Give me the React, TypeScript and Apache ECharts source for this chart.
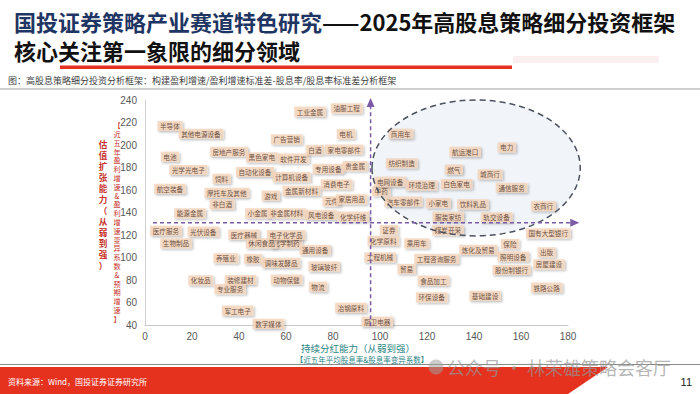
import React, { useEffect, useRef } from "react";
import * as echarts from "echarts";

// ---- data ----
const NAMES = [
  "半导体", "其他电源设备", "广告营销", "电池", "房地产服务", "黑色家电", "软件开发", "白酒",
  "家电零部件", "电机", "工业金属", "油服工程", "光学光电子", "自动化设备", "饲料", "计算机设备",
  "专用设备", "贵金属", "航空装备", "摩托车及其他", "游戏", "金属新材料", "消费电子", "非白酒",
  "元件", "家居用品", "能源金属", "小金属", "非金属材料", "风电设备", "化学纤维", "医疗服务",
  "光伏设备", "生物制品", "医疗器械", "化学制药", "休闲食品", "电子化学品", "通用设备", "养殖业",
  "橡胶", "调味发酵品", "玻璃玻纤", "化妆品", "装修建材", "专业服务", "动物保健", "物流",
  "军工电子", "数字媒体", "冶钢原料", "厨卫电器", "证券", "化学原料", "乘用车", "工程机械",
  "工程咨询服务", "贸易", "食品加工", "环保设备", "炼化及贸易", "保险", "照明设备", "股份制银行",
  "出版", "房屋建设", "国有大型银行", "铁路公路", "基础建设", "商用车", "航运港口", "电力",
  "纺织制造", "燃气", "城商行", "中药", "电网设备", "环境治理", "白色家电", "通信服务",
  "汽车零部件", "小家电", "饮料乳品", "服装家纺", "煤炭开采", "轨交设备", "农商行",
];
const X_VALUES = [
  10.6, 23.8, 60.3, 10.6, 35.7, 49.7, 63.2, 72.3,
  84.7, 85.5, 70.2, 85.8, 18.4, 46.8, 32.6, 62.4,
  78.0, 89.4, 10.6, 34.8, 53.5, 66.6, 81.5, 32.8,
  79.4, 87.9, 19.1, 47.9, 60.3, 75.0, 88.6, 8.9,
  24.8, 13.2, 42.1, 60.2, 49.6, 60.0, 72.4, 34.4,
  46.0, 57.9, 76.2, 23.7, 40.6, 36.2, 60.2, 73.6,
  39.4, 52.5, 87.6, 98.8, 103.8, 101.4, 115.6, 100.0,
  124.1, 111.3, 122.7, 122.0, 141.8, 155.3, 156.7, 156.0,
  170.9, 171.9, 171.6, 170.9, 144.7, 108.8, 136.2, 153.9,
  109.2, 131.4, 146.8, 100.5, 104.3, 117.7, 132.6, 156.0,
  109.9, 124.8, 139.5, 129.0, 128.9, 149.6, 169.5,
];
const Y_VALUES = [
  217.0, 210.0, 205.0, 189.6, 194.0, 189.0, 188.0, 195.6,
  196.0, 209.8, 229.6, 232.6, 177.8, 176.0, 170.0, 171.5,
  178.7, 181.3, 161.0, 157.5, 155.0, 159.3, 165.0, 147.3,
  150.0, 151.7, 139.3, 139.3, 139.3, 137.8, 136.3, 123.8,
  123.0, 112.6, 120.3, 112.6, 112.6, 120.0, 106.7, 99.3,
  98.7, 95.3, 92.0, 79.7, 80.0, 72.0, 80.4, 74.0,
  52.7, 41.0, 55.3, 43.0, 124.4, 114.9, 112.6, 100.1,
  98.7, 89.8, 79.4, 64.6, 106.7, 112.0, 100.7, 88.9,
  104.6, 93.9, 121.5, 73.2, 66.0, 210.0, 194.0, 197.9,
  183.8, 178.2, 173.9, 159.0, 167.4, 164.1, 165.3, 162.0,
  149.6, 148.4, 147.3, 136.3, 124.2, 135.7, 145.8,
];
const X_TICKS = [0, 20, 40, 60, 80, 100, 120, 140, 160, 180];
const Y_TICKS = [40, 60, 80, 100, 120, 140, 160, 180, 200, 220, 240];
const DIVIDER_X = 96;
const DIVIDER_Y = 131;
// ellipse: centre x, centre y, radius x, radius y (data units)
const FOCUS_ELLIPSE = [140.9, 179.6, 44.3, 60.4];

const TITLE_A = "国投证券策略产业赛道特色研究";
const TITLE_B = "——2025年高股息策略细分投资框架";
const TITLE_2 = "核心关注第一象限的细分领域";
const SUBTITLE = "图：高股息策略细分投资分析框架：构建盈利增速/盈利增速标准差-股息率/股息率标准差分析框架";
const X_NAME_1 = "持续分红能力（从弱到强）";
const X_NAME_2 = "【近五年平均股息率&股息率变异系数】";
const Y_NAME_1 = "估值扩张能力（从弱到强）";
const Y_NAME_2 = "【近五年盈利增速&盈利增速变异系数&预期增速】";
const SOURCE = "资料来源：Wind，国投证券证券研究所";
const WATERMARK = "公众号 · 林荣雄策略会客厅";
const PAGE_NO = "11";

const CJK = '"Noto Sans CJK SC", sans-serif';

export default function App() {
  const ref = useRef<HTMLDivElement>(null);
  useEffect(() => {
    const el = ref.current;
    if (!el) return;
    const chart = echarts.init(el, null, { renderer: "svg" });
    const data = NAMES.map((n, i) => ({ name: n, value: [X_VALUES[i], Y_VALUES[i]] }));
    chart.setOption({
      animation: false,
      backgroundColor: "#ffffff",
      grid: { left: 145, right: 132, top: 100, bottom: 69, containLabel: false },
      xAxis: {
        type: "value",
        min: X_TICKS[0],
        max: X_TICKS[X_TICKS.length - 1],
        interval: X_TICKS[1] - X_TICKS[0],
        axisLine: { show: true, lineStyle: { color: "#c8c8c8", width: 1 } },
        axisTick: { show: false },
        splitLine: { show: false },
        axisLabel: { color: "#595959", fontSize: 10, margin: 6, fontFamily: "Liberation Sans" },
      },
      yAxis: {
        type: "value",
        min: Y_TICKS[0],
        max: Y_TICKS[Y_TICKS.length - 1],
        interval: Y_TICKS[1] - Y_TICKS[0],
        axisLine: { show: true, lineStyle: { color: "#d0d0d0", width: 1 } },
        axisTick: { show: false },
        splitLine: { show: false },
        axisLabel: { color: "#595959", fontSize: 10, margin: 8, fontFamily: "Liberation Sans" },
      },
      series: [
        {
          type: "scatter",
          data,
          symbol: "circle",
          symbolSize: 1,
          itemStyle: { color: "rgba(0,0,0,0)" },
          z: 3,
          label: {
            show: true,
            position: "inside",
            formatter: "{b}",
            color: "#4a2e1e",
            fontSize: 6.6,
            fontFamily: CJK,
            backgroundColor: "#f5d4ba",
            padding: [2, 2.6, 1.6, 2.6],
            shadowColor: "rgba(0,0,0,0.3)",
            shadowBlur: 2,
            shadowOffsetX: 1.5,
            shadowOffsetY: 1.5,
          },
          emphasis: { disabled: true },
        },
      ],
    });

    const px = (x: number, y: number) => chart.convertToPixel({ gridIndex: 0 }, [x, y]) as number[];
    const [vx, vTop] = px(DIVIDER_X, 241.8);
    const [, vBottom] = px(DIVIDER_X, 39);
    const [hLeft, hy] = px(3.4, DIVIDER_Y);
    const [hRight] = px(184.8, DIVIDER_Y);
    const [ecx, ecy] = px(FOCUS_ELLIPSE[0], FOCUS_ELLIPSE[1]);
    const [ex2, ey2] = px(FOCUS_ELLIPSE[0] + FOCUS_ELLIPSE[2], FOCUS_ELLIPSE[1] + FOCUS_ELLIPSE[3]);
    const erx = ex2 - ecx;
    const ery = ecy - ey2;
    const purple = "#7b5aa6";

    const vertical = (s: string) => s.split("").join("\n");

    chart.setOption({
      graphic: {
        elements: [
          // header
          {
            type: "text", x: 14, y: 20.5, z: 20,
            style: {
              text: `{a|${TITLE_A}}{b|${TITLE_B}}`,
              verticalAlign: "middle",
              rich: {
                a: { fill: "#1f3563", fontSize: 22, fontWeight: "bold", fontFamily: CJK },
                b: { fill: "#111111", fontSize: 22, fontWeight: "bold", fontFamily: CJK },
              },
            },
          },
          {
            type: "text", x: 14, y: 49.5, z: 20,
            style: { text: TITLE_2, fill: "#111111", fontSize: 22, fontWeight: "bold", fontFamily: CJK, verticalAlign: "middle" },
          },
          { type: "rect", z: 20, shape: { x: 513, y: 56, width: 146, height: 7 }, style: { fill: "#fcefef" } },
          { type: "rect", z: 20, shape: { x: 60, y: 65.5, width: 452, height: 3.5 }, style: { fill: "#e3301f" } },
          {
            type: "text", x: 8, y: 80, z: 20,
            style: { text: SUBTITLE, fill: "#404040", fontSize: 9, fontFamily: CJK, verticalAlign: "middle" },
          },
          { type: "line", z: 20, shape: { x1: 0, y1: 89, x2: 700, y2: 89 }, style: { stroke: "#a0a0a0", lineWidth: 1 } },
          // ellipse fill (under labels)
          {
            type: "ellipse", z: 0,
            shape: { cx: ecx, cy: ecy, rx: erx, ry: ery },
            style: { fill: "#f1f4f8", stroke: "none" },
          },
          // ellipse dashed outline (over labels)
          {
            type: "ellipse", z: 10,
            shape: { cx: ecx, cy: ecy, rx: erx, ry: ery },
            style: { fill: "none", stroke: "#4b525e", lineWidth: 1.5, lineDash: [6, 4] },
          },
          // quadrant dividers
          {
            type: "line", z: 10,
            shape: { x1: vx, y1: vBottom, x2: vx, y2: vTop + 6 },
            style: { stroke: purple, lineWidth: 1.5, lineDash: [4, 3] },
          },
          {
            type: "polygon", z: 10,
            shape: { points: [[vx, vTop], [vx - 4, vTop + 9], [vx + 4, vTop + 9]] },
            style: { fill: purple },
          },
          {
            type: "line", z: 10,
            shape: { x1: hLeft, y1: hy, x2: hRight - 6, y2: hy },
            style: { stroke: purple, lineWidth: 1.5, lineDash: [4, 3] },
          },
          {
            type: "polygon", z: 10,
            shape: { points: [[hRight, hy], [hRight - 9, hy - 4], [hRight - 9, hy + 4]] },
            style: { fill: purple },
          },
          // axis names
          {
            type: "text", x: 103, y: 204, z: 20,
            style: {
              text: vertical(Y_NAME_1), fill: "#c8332b", fontSize: 8.6, fontWeight: "bold", fontFamily: CJK,
              lineHeight: 11, align: "center", verticalAlign: "middle",
            },
          },
          {
            type: "text", x: 117, y: 222, z: 20,
            style: {
              text: vertical(Y_NAME_2), fill: "#c8332b", fontSize: 7.2, fontFamily: CJK,
              lineHeight: 8.8, align: "center", verticalAlign: "middle",
            },
          },
          {
            type: "text", x: 358, y: 347.5, z: 20,
            style: { text: X_NAME_1, fill: "#2a8585", fontSize: 9.5, fontFamily: CJK, align: "center", verticalAlign: "middle" },
          },
          {
            type: "text", x: 362, y: 359, z: 20,
            style: { text: X_NAME_2, fill: "#2a8585", fontSize: 7.5, fontFamily: CJK, align: "center", verticalAlign: "middle" },
          },
          // footer
          { type: "line", z: 20, shape: { x1: 0, y1: 364.5, x2: 700, y2: 364.5 }, style: { stroke: "#8a8a8a", lineWidth: 1 } },
          {
            type: "polygon", z: 20,
            shape: { points: [[0, 367], [608, 367], [568, 394], [0, 394]] },
            style: { fill: "#e5321f" },
          },
          {
            type: "text", x: 8, y: 381, z: 21,
            style: { text: SOURCE, fill: "#ffffff", fontSize: 8, fontFamily: CJK, verticalAlign: "middle" },
          },
          { type: "circle", z: 21, shape: { cx: 436, cy: 367, r: 7.5 }, style: { fill: "rgba(160,160,160,0.55)" } },
          {
            type: "text", x: 447, y: 367, z: 21,
            style: { text: WATERMARK, fill: "rgba(150,150,150,0.7)", fontSize: 18, fontFamily: CJK, verticalAlign: "middle" },
          },
          {
            type: "text", x: 692, y: 382, z: 21,
            style: { text: PAGE_NO, fill: "#222222", fontSize: 11, fontFamily: "Liberation Sans", align: "right", verticalAlign: "middle" },
          },
        ],
      },
    });

    return () => chart.dispose();
  }, []);

  return (
    <div
      ref={ref}
      style={{ position: "fixed", left: 0, top: 0, width: 700, height: 394, background: "#fff" }}
    />
  );
}
